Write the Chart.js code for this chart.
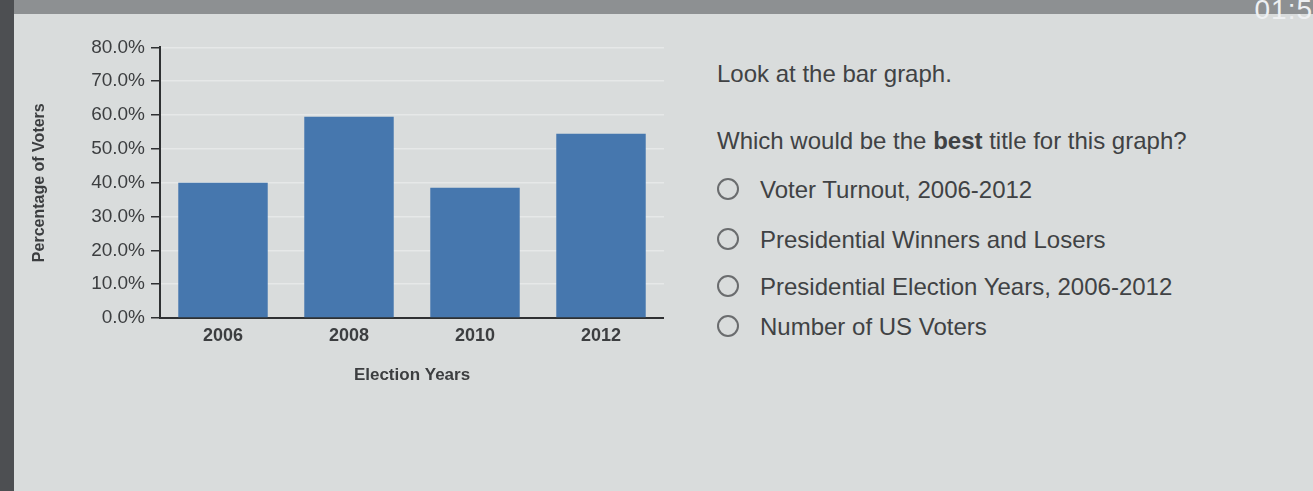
<!DOCTYPE html>
<html>
<head>
<meta charset="utf-8">
<script src="https://cdn.jsdelivr.net/npm/chart.js@4/dist/chart.umd.min.js"></script>
<style>
  body { margin: 0; width: 1313px; height: 491px; overflow: hidden;
         background: #d9dcdc; font-family: "Liberation Sans", Arial, sans-serif; position: relative; }
  #topbar { position: absolute; left: 0; top: 0; width: 1313px; height: 14px; background: #8d9092; }
  #timer { position: absolute; right: 0; top: -6px; color: #eef0f2; font-size: 28px; letter-spacing: 1px; }
  #leftedge { position: absolute; left: 0; top: 0; width: 14px; height: 491px; background: #4d4f52; }
  #wrap { position: absolute; left: 20px; top: 30px; width: 644px; height: 360px; }
  #question { position: absolute; left: 717px; top: 58px; color: #404244; font-size: 24px; }
  #question p { margin: 0; }
  .opt { position: absolute; left: 0; white-space: nowrap; }
  .opt span.c { position: absolute; left: 0; top: 2px; width: 18px; height: 18px;
                border: 2px solid #6a6c6e; border-radius: 50%; }
  .opt span.t { position: absolute; left: 43px; top: 0; }
</style>
</head>
<body>
<div id="topbar"></div>
<div id="leftedge"></div>
<div id="timer">01:5</div>
<div id="wrap"><canvas id="chart"></canvas></div>
<div id="question">
  <p style="position:absolute;top:2px;white-space:nowrap">Look at the bar graph.</p>
  <p style="position:absolute;top:69px;white-space:nowrap">Which would be the <b>best</b> title for this graph?</p>
  <div class="opt" style="top:118px"><span class="c"></span><span class="t">Voter Turnout, 2006-2012</span></div>
  <div class="opt" style="top:168px"><span class="c"></span><span class="t">Presidential Winners and Losers</span></div>
  <div class="opt" style="top:215px"><span class="c"></span><span class="t">Presidential Election Years, 2006-2012</span></div>
  <div class="opt" style="top:255px"><span class="c"></span><span class="t">Number of US Voters</span></div>
</div>
<script>
// data
const years = ['2006', '2008', '2010', '2012'];
const turnout = [40, 59.5, 38.5, 54.5];
const yTicks = [0, 10, 20, 30, 40, 50, 60, 70, 80];

const textColor = '#3c3e40';

let ctx = document.getElementById('chart');

var chart = new Chart(ctx, {
  type: 'bar',
  data: {
    labels: years,
    datasets: [{
      label: 'Percentage of Voters',
      data: turnout,
      backgroundColor: '#4677ae',
      borderWidth: 0,
      barPercentage: 0.71,
      categoryPercentage: 1
    }]
  },
  options: {
    responsive: true,
    maintainAspectRatio: false,
    animation: false,
    layout: { padding: { top: 12, right: 0, left: 0, bottom: 0 } },
    plugins: { legend: { display: false }, tooltip: { enabled: false } },
    scales: {
      x: {
        grid: { display: false, drawTicks: false },
        border: { color: '#2e3032', width: 2 },
        ticks: { color: textColor, font: { size: 18, weight: 'bold' }, padding: 7 },
        title: { display: true, text: 'Election Years', color: textColor,
                 font: { size: 17, weight: 'bold' }, padding: { top: 8 } },
        afterFit: function (scale) { scale.height = 72; }
      },
      y: {
        min: 0,
        max: 80,
        afterBuildTicks: function (scale) {
          scale.ticks = yTicks.map(v => ({ value: v }));
        },
        grid: { color: '#e6e8e8', lineWidth: 1.5, drawTicks: true, tickLength: 9, tickColor: '#2e3032' },
        border: { color: '#2e3032', width: 2 },
        ticks: { color: textColor, font: { size: 19 }, padding: 6,
                 callback: v => v.toFixed(1) + '%' },
        title: { display: true, text: 'Percentage of Voters', color: textColor,
                 font: { size: 16, weight: 'bold' }, padding: { top: 10, bottom: 10 } },
        afterFit: function (scale) { scale.width = 140; }
      }
    }
  }
});
</script>
</body>
</html>
